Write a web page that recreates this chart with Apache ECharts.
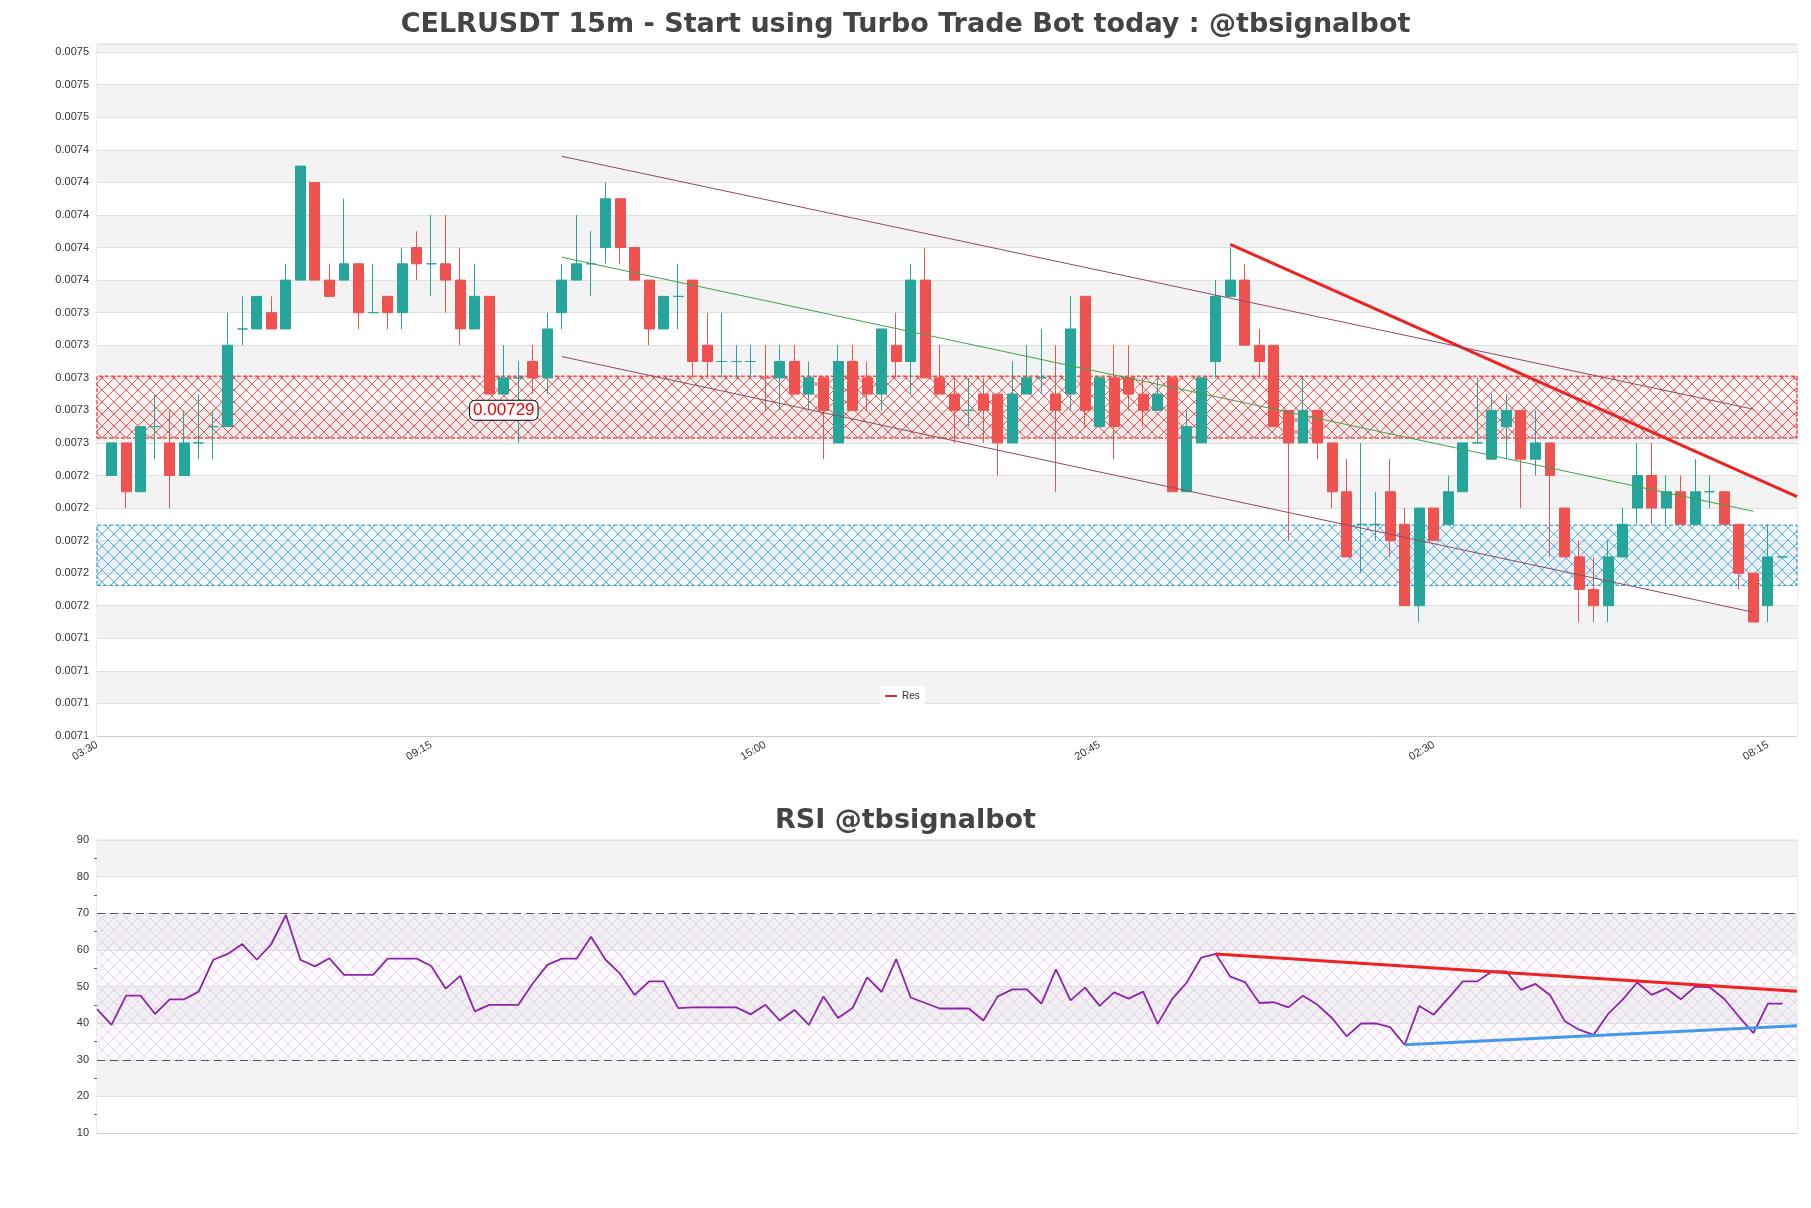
<!DOCTYPE html>
<html>
<head>
<meta charset="utf-8">
<script src="https://cdn.jsdelivr.net/npm/echarts@6/dist/echarts.min.js"></script>
<style>
html, body { margin: 0; padding: 0; background: #fff; }
#chart { width: 1811px; height: 1208px; }
</style>
</head>
<body>
<div id="chart"></div>
<script>
// candles: steps of 0.00001 above 0.00709
const BASE = 709;
const openSteps  = [16,18,15,19,18,16,18,19,19,25,25,26,25,28,34,28,28,29,26,27,26,30,29,29,28,25,27,21,22,23,22,26,28,29,30,33,30,28,25,27,28,24,23,23,23,22,22,23,21,22,18,23,22,21,24,23,28,22,21,20,21,21,18,21,22,21,21,27,19,22,22,21,20,22,15,18,23,27,28,24,24,20,18,20,18,15,13,13,15,13,8,14,13,15,18,17,19,20,17,18,14,11,9,8,11,14,16,14,15,13,15,15,13,10,8,11];
const closeSteps = [18,15,19,19,16,18,18,19,24,25,27,25,28,35,28,27,29,26,26,26,29,29,29,28,25,27,21,22,22,22,25,28,29,29,33,30,28,25,27,27,23,23,23,23,23,22,23,21,22,20,23,20,21,25,23,28,22,21,20,20,20,18,21,22,22,20,25,20,22,19,21,20,21,15,19,22,27,28,24,23,19,18,20,18,15,11,13,13,12,8,14,12,15,18,18,20,20,17,18,16,11,9,8,11,13,16,14,15,13,15,15,13,10,7,11,11];
const lowSteps   = [16,14,15,17,14,16,17,17,19,24,25,25,25,28,28,27,28,25,26,25,25,28,27,26,24,25,21,21,18,21,21,25,28,27,29,29,28,24,25,25,22,22,22,22,22,20,20,21,20,17,18,20,20,20,22,21,22,21,18,19,18,16,18,21,21,15,20,19,19,17,20,19,20,15,15,18,22,27,24,22,19,12,18,17,14,11,10,12,11,8,7,12,13,15,18,17,17,14,16,11,11,7,7,7,11,13,13,13,13,13,14,13,9,7,7,11];
const highSteps  = [18,18,19,21,20,20,21,20,26,27,27,27,29,35,34,29,33,29,29,27,30,31,32,32,30,29,27,24,23,24,26,29,32,31,34,33,30,28,27,29,28,26,26,24,24,24,24,24,23,22,24,24,23,25,26,29,30,24,22,22,22,21,23,24,25,24,27,27,22,24,24,22,22,22,20,22,28,30,29,25,24,20,22,20,18,17,18,15,17,14,14,14,16,18,22,21,21,20,20,18,14,12,11,12,14,18,18,16,16,17,16,15,13,10,13,11];

const rsiValues = [43.8,39.5,47.5,47.5,42.5,46.5,46.5,48.6,57.3,58.9,61.6,57.3,61.6,69.5,57.3,55.5,57.7,53.2,53.2,53.2,
  57.6,57.6,57.6,55.6,49.4,52.9,43.2,45,45,45,50.9,55.9,57.6,57.6,63.6,57.3,53.5,47.7,51.4,51.4,
  44.1,44.3,44.3,44.3,44.3,42.4,45,40.7,43.6,39.5,47.3,41.4,44.1,52.5,48.5,57.5,47,45.5,44,44,
  44,40.7,47.3,49.2,49.2,45.3,54.7,46.2,49.7,44.7,48.4,46.7,48.6,39.8,46.6,51.1,57.9,58.9,52.7,51.2,
  45.5,45.7,44.3,47.5,45,41.4,36.4,39.9,39.9,38.9,34.1,44.7,42.3,46.8,51.4,51.4,54.1,54.1,49.1,50.7,
  47.7,40.6,38.2,36.8,42.5,46.4,51.1,47.7,49.5,46.5,50,49.8,46.6,41.8,37.3,45.3,45.3];

const priceTickLabels = ['0.0071','0.0071','0.0071','0.0071','0.0072','0.0072','0.0072','0.0072','0.0072',
  '0.0073','0.0073','0.0073','0.0073','0.0073','0.0074','0.0074','0.0074','0.0074','0.0074','0.0075','0.0075','0.0075'];

const resistance = 0.00729;
const resZone = [0.007273, 0.007311];
const supZone = [0.0071825, 0.0072195];
const channelTop = [[32, 0.007446], [114, 0.0072907]];
const channelBottom = [[32, 0.007323], [114, 0.007166]];
const channelMid = [[32, 0.007384], [114, 0.007228]];
const resLine = [[78, 0.007392], [117, 0.007237]];
const rsiRes = [[77, 58.9], [117, 48.7]];
const rsiSup = [[90, 34.1], [117, 39.3]];

const times = [];
for (let i = 0; i < 118; i++) {
  const m = (3 * 60 + 30 + i * 15) % 1440;
  times.push(String(Math.floor(m / 60)).padStart(2, '0') + ':' + String(m % 60).padStart(2, '0'));
}

const candles = [['-', '-', '-', '-']];
for (let i = 0; i < openSteps.length; i++) {
  candles.push([openSteps[i], closeSteps[i], lowSteps[i], highSteps[i]].map(s => (BASE + s) / 100000));
}

function hatch(line, fill) {
  const c = document.createElement('canvas');
  c.width = 12; c.height = 12;
  const g = c.getContext('2d');
  g.fillStyle = fill; g.fillRect(0, 0, 12, 12);
  g.strokeStyle = line; g.lineWidth = 0.8;
  g.beginPath();
  g.moveTo(0, 0); g.lineTo(12, 12);
  g.moveTo(12, 0); g.lineTo(0, 12);
  g.stroke();
  return { image: c, repeat: 'repeat' };
}

const chart = echarts.init(document.getElementById('chart'));
const axisText = { color: '#333', fontSize: 11 };
chart.setOption({
  animation: false,
  backgroundColor: '#fff',
  title: [
    { text: 'CELRUSDT 15m - Start using Turbo Trade Bot today : @tbsignalbot', left: 'center', top: 6,
      textStyle: { fontSize: 27, fontWeight: 'bold', color: '#444', fontFamily: 'DejaVu Sans' } },
    { text: 'RSI @tbsignalbot', left: 'center', top: 802,
      textStyle: { fontSize: 27, fontWeight: 'bold', color: '#444', fontFamily: 'DejaVu Sans' } }
  ],
  legend: {
    data: [{ name: 'Res', icon: 'rect' }], left: 880, top: 686, itemWidth: 12, itemHeight: 2,
    backgroundColor: '#fff', textStyle: { fontSize: 10, color: '#333' }
  },
  grid: [
    { left: 97, right: 14, top: 44, height: 692, show: true, borderColor: '#ddd', backgroundColor: 'transparent' },
    { left: 97, right: 14, top: 840, height: 293, show: true, borderColor: '#ddd' }
  ],
  xAxis: [
    { type: 'category', data: times, gridIndex: 0, boundaryGap: false,
      axisLine: { lineStyle: { color: '#ccc' } }, axisTick: { show: false },
      axisLabel: { ...axisText, rotate: 30, interval: 22 }, splitLine: { show: false } },
    { type: 'category', data: times, gridIndex: 1, boundaryGap: false,
      axisLine: { lineStyle: { color: '#ccc' } }, axisTick: { show: false }, axisLabel: { show: false } }
  ],
  yAxis: [
    { type: 'value', gridIndex: 0, min: 0.00709, max: 0.007515, interval: 0.00002,
      axisLine: { show: false }, axisTick: { show: false },
      axisLabel: { ...axisText, showMaxLabel: false,
        formatter: v => priceTickLabels[Math.round((v - 0.00709) / 0.00002)] || '' },
      splitLine: { lineStyle: { color: '#e0e0e0' } },
      splitArea: { show: true, areaStyle: { color: ['#ffffff', '#f3f3f3'] } } },
    { type: 'value', gridIndex: 1, min: 10, max: 90, interval: 10,
      axisLine: { show: false }, axisTick: { show: false },
      minorTick: { show: true, splitNumber: 2, length: 3, lineStyle: { color: '#666' } },
      axisLabel: axisText,
      splitLine: { lineStyle: { color: '#e0e0e0' } },
      splitArea: { show: true, areaStyle: { color: ['#ffffff', '#f3f3f3'] } } }
  ],
  series: [
    {
      type: 'candlestick', name: 'price', xAxisIndex: 0, yAxisIndex: 0, data: candles, barWidth: '72%',
      itemStyle: { color: '#26a69a', color0: '#ef5350', borderColor: '#26a69a', borderColor0: '#ef5350', borderWidth: 1 },
      markArea: {
        silent: true,
        data: [
          [{ yAxis: resZone[0], itemStyle: { color: hatch('rgba(230,0,0,0.8)', 'rgba(255,0,0,0.04)'), borderColor: '#e00', borderWidth: 1, borderType: 'dashed' } }, { yAxis: resZone[1] }],
          [{ yAxis: supZone[0], itemStyle: { color: hatch('rgba(0,140,220,0.8)', 'rgba(0,150,255,0.04)'), borderColor: '#1a8fd8', borderWidth: 1, borderType: 'dashed' } }, { yAxis: supZone[1] }]
        ]
      },
      markLine: {
        silent: true, symbol: 'none', label: { show: false },
        data: [
          { yAxis: resistance, lineStyle: { color: '#ee0000', width: 2, type: 'dotted' } },
          [{ coord: channelTop[0], lineStyle: { color: '#8e4a60', width: 1, type: 'solid' } }, { coord: channelTop[1] }],
          [{ coord: channelBottom[0], lineStyle: { color: '#8e4a60', width: 1, type: 'solid' } }, { coord: channelBottom[1] }],
          [{ coord: channelMid[0], lineStyle: { color: '#3da14b', width: 1, type: 'solid' } }, { coord: channelMid[1] }]
        ]
      },
      markPoint: {
        symbol: 'rect', symbolSize: 0,
        data: [{ coord: [27.7, resistance], value: resistance }],
        label: { show: true, position: 'inside', formatter: p => String(p.value), color: '#e00', fontSize: 17,
          backgroundColor: '#fff', borderColor: '#000', borderWidth: 1, borderRadius: 5, padding: [1, 3] }
      }
    },
    {
      type: 'line', name: 'Res', xAxisIndex: 0, yAxisIndex: 0, data: resLine, symbol: 'none',
      lineStyle: { color: '#ee2222', width: 3 }, itemStyle: { color: '#ee2222' }
    },
    {
      type: 'line', name: 'rsi', xAxisIndex: 1, yAxisIndex: 1, data: rsiValues, symbol: 'none',
      lineStyle: { color: '#8e24aa', width: 1.8 },
      markArea: {
        silent: true,
        data: [[{ yAxis: 30, itemStyle: { color: hatch('rgba(190,150,215,0.45)', 'rgba(240,225,245,0.15)') } }, { yAxis: 70 }]]
      },
      markLine: {
        silent: true, symbol: 'none', label: { show: false },
        data: [
          { yAxis: 70, lineStyle: { color: '#555', type: [8, 5], width: 1.2 } },
          { yAxis: 30, lineStyle: { color: '#555', type: [8, 5], width: 1.2 } },
          [{ coord: rsiRes[0], lineStyle: { color: '#ee2222', width: 3, type: 'solid' } }, { coord: rsiRes[1] }],
          [{ coord: rsiSup[0], lineStyle: { color: '#4499ee', width: 3, type: 'solid' } }, { coord: rsiSup[1] }]
        ]
      }
    }
  ]
});
</script>
</body>
</html>
